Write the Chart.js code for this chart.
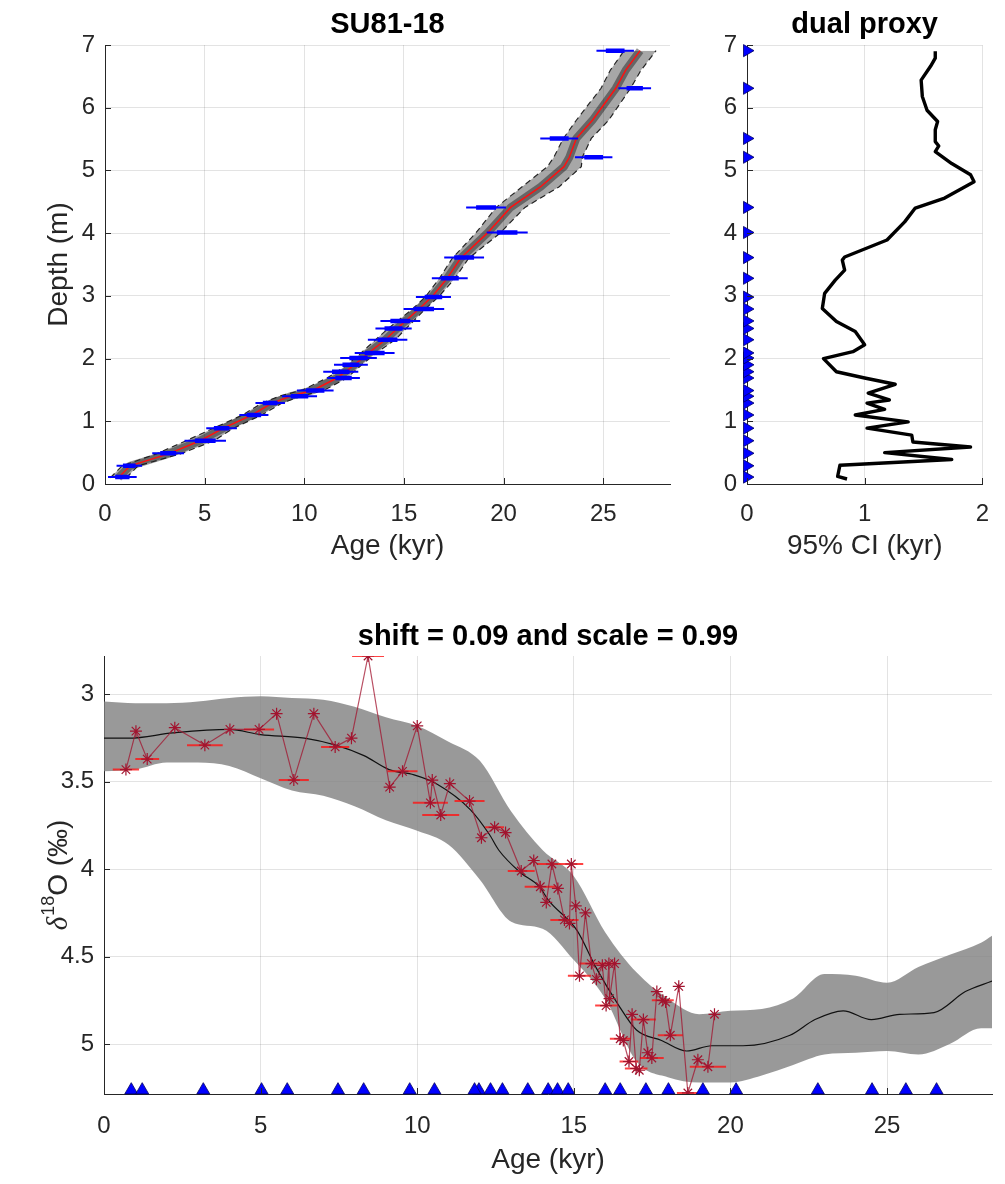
<!DOCTYPE html>
<html>
<head>
<meta charset="utf-8">
<script src="https://cdn.jsdelivr.net/npm/chart.js@4.4.1/dist/chart.umd.min.js"></script>
<style>
  body { margin: 0; background: #fff; }
  #wrap { position: relative; width: 1005px; height: 1184px; }
  .box { position: absolute; }
</style>
</head>
<body>
<div id="wrap">
  <div class="box" style="left:0;top:0;width:680px;height:580px"><canvas id="ageDepth"></canvas></div>
  <div class="box" style="left:690px;top:0;width:315px;height:580px"><canvas id="ciChart"></canvas></div>
  <div class="box" style="left:0;top:590px;width:1005px;height:594px"><canvas id="isoChart"></canvas></div>
</div>
<script>
// dated levels: depth (m), age (kyr), 2-sigma half width (kyr)
const dateDepth = [0.11,0.29,0.49,0.69,0.89,1.10,1.29,1.40,1.49,1.69,1.79,1.90,2.01,2.09,2.30,2.48,2.60,2.79,2.98,3.28,3.61,4.01,4.41,5.21,5.51,6.31,6.91];
const dateAge = [0.87,1.22,3.17,5.03,5.85,7.47,8.29,9.76,10.55,11.97,11.83,12.34,12.72,13.53,14.18,14.48,14.82,16.00,16.48,17.30,18.02,20.18,19.12,24.52,22.79,26.58,25.60];
const dateErr = [0.72,0.64,0.80,1.04,0.77,0.73,0.74,0.88,0.92,0.82,0.88,0.85,0.92,1.00,0.99,0.91,1.00,1.02,0.88,0.90,1.00,1.03,1.00,0.94,0.95,0.82,0.94];

// age model: median and 95% bounds
const modelDepth = [0.10,0.29,0.48,0.69,0.89,1.10,1.29,1.40,1.50,1.69,1.89,2.07,2.30,2.48,2.79,2.99,3.28,3.60,4.00,4.41,4.74,5.06,5.21,5.51,5.80,6.31,6.60,6.91];
const modelMedian = [0.67,1.26,3.18,4.77,5.95,7.37,8.38,9.30,10.47,11.64,12.48,13.15,14.07,14.66,15.75,16.42,17.17,17.84,19.18,20.35,21.86,23.03,23.30,23.65,24.46,25.63,26.13,26.85];
const modelLow = [0.27,0.86,2.58,4.07,5.45,6.90,7.88,8.75,9.92,11.14,12.12,12.78,13.58,14.21,15.43,16.09,16.78,17.43,18.60,19.63,20.93,22.20,22.52,23.00,23.65,24.89,25.36,26.05];
const modelHigh = [1.07,1.66,3.78,5.47,6.45,7.85,8.88,9.85,11.02,12.14,12.84,13.53,14.56,15.11,16.07,16.75,17.56,18.25,19.82,21.07,22.79,23.90,23.95,24.40,25.27,26.37,26.90,27.65];

// 95% CI width along the core
const ciDepth = [0.08,0.12,0.30,0.39,0.50,0.59,0.67,0.78,0.89,0.99,1.10,1.19,1.29,1.34,1.45,1.59,1.69,1.79,2.00,2.11,2.22,2.43,2.59,2.80,3.04,3.25,3.41,3.57,3.62,3.89,4.18,4.40,4.56,4.82,4.93,5.11,5.30,5.39,5.46,5.65,5.78,5.96,6.18,6.44,6.66,6.79,6.90];
const ciWidth = [0.85,0.77,0.79,1.74,1.17,1.90,1.41,1.40,1.02,1.37,0.92,1.17,1.02,1.21,1.03,1.26,1.00,0.76,0.65,0.90,1.00,0.92,0.76,0.64,0.66,0.75,0.83,0.81,0.83,1.19,1.34,1.43,1.68,1.93,1.90,1.74,1.60,1.63,1.60,1.60,1.62,1.53,1.49,1.48,1.56,1.60,1.60];

// d18O target stack (band + median)
const bandAge = [0,1,2,3,4,5,6,7,8,9,10,11,12,13,14,15,16,17,18,19,20,21,22,23,24,25,26,27,28,28.35];
const bandTop = [3.04,3.05,3.05,3.04,3.02,3.01,3.02,3.03,3.07,3.13,3.18,3.27,3.38,3.67,3.89,4.04,4.36,4.59,4.74,4.83,4.81,4.80,4.74,4.60,4.61,4.65,4.56,4.49,4.42,4.38];
const bandBottom = [3.44,3.43,3.39,3.39,3.41,3.48,3.55,3.58,3.64,3.72,3.78,3.86,4.06,4.30,4.34,4.52,4.74,5.10,5.19,5.22,5.22,5.18,5.12,5.06,5.05,5.04,5.06,5.00,4.91,4.91];
const medAge = [0,0.8,2.2,4.0,5.0,6.4,7.4,8.3,9.1,9.9,10.6,11.7,12.3,12.6,13.3,13.9,14.2,15.1,15.7,16.4,17.0,17.8,18.6,19.4,20.4,21.9,22.7,23.6,24.5,25.4,26.5,27.5,28.35];
const medIso = [3.25,3.25,3.22,3.20,3.23,3.25,3.29,3.35,3.43,3.46,3.51,3.66,3.80,3.89,4.02,4.10,4.18,4.35,4.56,4.77,4.92,4.98,5.04,5.01,5.01,4.95,4.86,4.81,4.86,4.83,4.82,4.70,4.64];

// SU81-18 d18O samples on the new age scale
const sampleAge = [0.70,1.02,1.38,2.26,3.22,4.02,4.95,5.51,6.06,6.70,7.38,7.90,8.43,9.12,9.53,10.00,10.42,10.48,10.75,11.04,11.67,12.05,12.47,12.82,13.32,13.72,13.93,14.12,14.30,14.49,14.70,14.86,14.92,15.06,15.18,15.37,15.56,15.72,15.91,16.03,16.12,16.14,16.30,16.48,16.58,16.76,16.86,16.99,17.09,17.22,17.36,17.49,17.65,17.84,17.93,18.08,18.35,18.64,18.96,19.28,19.49];
const sampleIso = [3.43,3.21,3.37,3.19,3.29,3.20,3.20,3.11,3.49,3.11,3.30,3.25,2.78,3.53,3.44,3.18,3.62,3.49,3.69,3.51,3.61,3.82,3.76,3.79,4.01,3.95,4.10,4.19,3.97,4.11,4.29,4.31,3.97,4.21,4.61,4.25,4.54,4.63,4.55,4.78,4.54,4.74,4.54,4.97,4.98,5.10,4.83,5.14,5.15,4.86,5.05,5.08,4.70,4.75,4.76,4.95,4.67,5.28,5.09,5.13,4.83];
const sampleErr = [0.42,0,0.38,0,0.57,0,0.48,0,0.48,0,0.45,0,0.51,0,0.48,0,0.56,0,0.59,0,0.48,0,0.30,0,0.43,0,0.50,0,0.48,0,0.45,0,0.38,0,0.37,0,0.38,0,0,0.35,0.25,0,0,0.33,0,0.30,0,0.36,0,0.40,0,0.38,0,0.35,0,0.40,0,0.35,0,0.58,0];

// tick labels
const ageTicks = [0,5,10,15,20,25];
const depthTicks = [0,1,2,3,4,5,6,7];
const ciTicks = [0,1,2];
const isoTicks = [3,3.5,4,4.5,5];

const AGE_MAX = 28.35;
const ISO_MIN = 2.78, ISO_MAX = 5.286;

const FONT = "'Liberation Sans', Arial, Helvetica, sans-serif";
const AXIS = '#262626';
const GRID = 'rgba(38,38,38,0.13)';
Chart.defaults.font.family = FONT;
Chart.defaults.color = AXIS;
Chart.defaults.animation = false;
Chart.defaults.plugins.legend.display = false;
Chart.defaults.plugins.tooltip.enabled = false;
Chart.defaults.elements.point.radius = 0;
Chart.defaults.elements.point.hoverRadius = 0;

function pts(xs, ys) {
  return xs.map((x, i) => ({x: x, y: ys[i]}));
}

// horizontal error bars, one segment per point, gaps between them
function hBars(centers, levels, half, k) {
  const out = [];
  centers.forEach((c, i) => {
    if (!half[i]) return;
    out.push({x: c - half[i] * k, y: levels[i]});
    out.push({x: c + half[i] * k, y: levels[i]});
    out.push({x: null, y: null});
  });
  return out;
}

function setTicks(list) {
  return s => { s.ticks = list.map(v => ({value: v})); };
}

function scaleOpts(min, max, ticks, title, extra) {
  return Object.assign({
    type: 'linear', min: min, max: max,
    afterBuildTicks: setTicks(ticks),
    grid: {color: GRID, drawTicks: false},
    border: {color: AXIS, width: 1},
    ticks: {font: {size: 24}, color: AXIS, padding: 10, callback: v => String(v)},
    title: {display: !!title, text: title, font: {size: 28}, color: AXIS, padding: {top: 0, bottom: 0}}
  }, extra);
}

// MATLAB-style tick marks pointing into the plot
const innerTicks = {
  id: 'innerTicks',
  afterDatasetsDraw(chart) {
    const {ctx, chartArea, scales} = chart;
    ctx.save();
    ctx.strokeStyle = AXIS;
    ctx.lineWidth = 1;
    ctx.beginPath();
    scales.x.ticks.forEach(t => {
      const p = Math.round(scales.x.getPixelForValue(t.value)) + 0.5;
      ctx.moveTo(p, chartArea.bottom);
      ctx.lineTo(p, chartArea.bottom - 6);
    });
    scales.y.ticks.forEach(t => {
      const p = Math.round(scales.y.getPixelForValue(t.value)) + 0.5;
      ctx.moveTo(chartArea.left, p);
      ctx.lineTo(chartArea.left + 6, p);
    });
    ctx.stroke();
    ctx.restore();
  }
};

// bold title centred over the plot box
const plotTitle = {
  id: 'plotTitle',
  afterDraw(chart, args, opts) {
    const {ctx, chartArea} = chart;
    ctx.save();
    ctx.font = 'bold 29px ' + FONT;
    ctx.fillStyle = '#000';
    ctx.textAlign = 'center';
    ctx.textBaseline = 'alphabetic';
    ctx.fillText(opts.text, (chartArea.left + chartArea.right) / 2, opts.baseline);
    ctx.restore();
  }
};

// ---- top left: age-depth model ----
const adOpts = {
  responsive: true, maintainAspectRatio: false,
  indexAxis: 'y',
  layout: {padding: {top: 45, right: 10}},
  plugins: {plotTitle: {text: 'SU81-18', baseline: 33}},
  scales: {
    x: scaleOpts(0, AGE_MAX, ageTicks, 'Age (kyr)', {position: 'bottom', afterFit: s => { s.height = 96; }}),
    y: scaleOpts(0, 7, depthTicks, 'Depth (m)', {position: 'left', afterFit: s => { s.width = 105; }})
  }
};
adOpts.scales.x.ticks.padding = 16;
adOpts.scales.x.title.padding = {top: 0, bottom: 17};
adOpts.scales.y.title.padding = {top: 42, bottom: 0};
new Chart(document.getElementById('ageDepth'), {
  type: 'line',
  data: {
    datasets: [
      {data: pts(modelLow, modelDepth), borderColor: '#222', borderWidth: 1.2, borderDash: [6, 4], fill: false, order: 5},
      {data: pts(modelHigh, modelDepth), borderColor: '#222', borderWidth: 1.2, borderDash: [6, 4],
        fill: '-1', backgroundColor: 'rgba(60,60,60,0.45)', order: 4},
      {data: pts(modelMedian, modelDepth), borderColor: 'rgba(25,25,25,0.45)', borderWidth: 8, order: 3},
      {data: pts(modelMedian, modelDepth), borderColor: '#ff1010', borderWidth: 1.5, order: 2},
      {data: hBars(dateAge, dateDepth, dateErr, 1), borderColor: '#0000ff', borderWidth: 2, order: 1},
      {data: hBars(dateAge, dateDepth, dateErr, 0.5), borderColor: '#0000ff', borderWidth: 4.5, order: 0}
    ]
  },
  options: adOpts,
  plugins: [innerTicks, plotTitle]
});

// ---- top right: 95% CI width ----
const ciOpts = {
  responsive: true, maintainAspectRatio: false,
  indexAxis: 'y',
  layout: {padding: {top: 45, right: 13}},
  plugins: {plotTitle: {text: 'dual proxy', baseline: 33}},
  scales: {
    x: scaleOpts(0, 2, ciTicks, '95% CI (kyr)', {position: 'bottom', afterFit: s => { s.height = 96; }}),
    y: scaleOpts(0, 7, depthTicks, '', {position: 'left', afterFit: s => { s.width = 57; }})
  }
};
ciOpts.scales.x.ticks.padding = 16;
ciOpts.scales.x.title.padding = {top: 0, bottom: 17};
new Chart(document.getElementById('ciChart'), {
  type: 'line',
  data: {
    datasets: [
      {data: pts(ciWidth, ciDepth), borderColor: '#000', borderWidth: 3.4, borderJoinStyle: 'round', order: 2},
      {data: dateDepth.map(d => ({x: 0, y: d})), showLine: false, clip: false,
        pointStyle: 'triangle', rotation: 90, pointRadius: 7,
        pointBackgroundColor: '#0000ff', pointBorderColor: '#000060', pointBorderWidth: 0.8, order: 1}
    ]
  },
  options: ciOpts,
  plugins: [innerTicks, plotTitle]
});

// d18O axis title with italic delta and superscript 18
const isoTitle = {
  id: 'isoTitle',
  afterDraw(chart) {
    const {ctx, chartArea} = chart;
    const cy = (chartArea.top + chartArea.bottom) / 2;
    const fDelta = "italic 29px 'Liberation Serif', serif";
    const fMain = "28px " + FONT;
    const fSup = "18px " + FONT;
    ctx.save();
    ctx.font = fDelta; const w1 = ctx.measureText('δ').width;
    ctx.font = fSup; const w2 = ctx.measureText('18').width;
    ctx.font = fMain; const w3 = ctx.measureText('O (‰)').width;
    const total = w1 + w2 + w3 + 1;
    ctx.translate(59, cy);
    ctx.rotate(-Math.PI / 2);
    ctx.fillStyle = AXIS;
    ctx.textBaseline = 'middle';
    let x = -total / 2;
    ctx.font = fDelta; ctx.fillText('δ', x, 0); x += w1 + 1;
    ctx.font = fSup; ctx.fillText('18', x, -10); x += w2;
    ctx.font = fMain; ctx.fillText('O (‰)', x, 0);
    ctx.restore();
  }
};

// ---- bottom: d18O vs age ----
const triY = ISO_MAX - 0.022;
const isoOpts = {
  responsive: true, maintainAspectRatio: false,
  layout: {padding: {top: 66, right: 13}},
  plugins: {plotTitle: {text: 'shift = 0.09 and scale = 0.99', baseline: 55}},
  scales: {
    x: scaleOpts(0, AGE_MAX, ageTicks, 'Age (kyr)', {position: 'bottom', afterFit: s => { s.height = 90; }}),
    y: scaleOpts(ISO_MIN, ISO_MAX, isoTicks, '', {position: 'left', reverse: true, afterFit: s => { s.width = 104; }})
  }
};
isoOpts.scales.x.title.padding = {top: 0, bottom: 7};
isoOpts.scales.x.ticks.padding = 18;
new Chart(document.getElementById('isoChart'), {
  type: 'line',
  data: {
    datasets: [
      {data: pts(bandAge, bandBottom), borderWidth: 0, borderColor: 'rgba(0,0,0,0)',
        cubicInterpolationMode: 'monotone', order: 10},
      {data: pts(bandAge, bandTop), borderWidth: 0, borderColor: 'rgba(0,0,0,0)',
        cubicInterpolationMode: 'monotone', fill: '-1', backgroundColor: 'rgba(128,128,128,0.8)', order: 9},
      {data: pts(medAge, medIso), borderColor: '#111', borderWidth: 1.2, cubicInterpolationMode: 'monotone', order: 7},
      {data: hBars(sampleAge, sampleIso, sampleErr, 1), borderColor: 'rgba(255,20,20,0.8)', borderWidth: 2, order: 6},
      {data: pts(sampleAge, sampleIso), borderColor: 'rgba(162,20,47,0.75)', borderWidth: 1.2,
        pointStyle: 'star', pointRadius: 6, pointBorderColor: '#a2142f', pointBorderWidth: 1.2, order: 5},
      {data: dateAge.map(a => ({x: a, y: triY})), showLine: false, clip: false,
        pointStyle: 'triangle', pointRadius: 7.5,
        pointBackgroundColor: '#0000ff', pointBorderColor: '#000060', pointBorderWidth: 0.8, order: 1}
    ]
  },
  options: isoOpts,
  plugins: [innerTicks, plotTitle, isoTitle]
});
</script>
</body>
</html>
